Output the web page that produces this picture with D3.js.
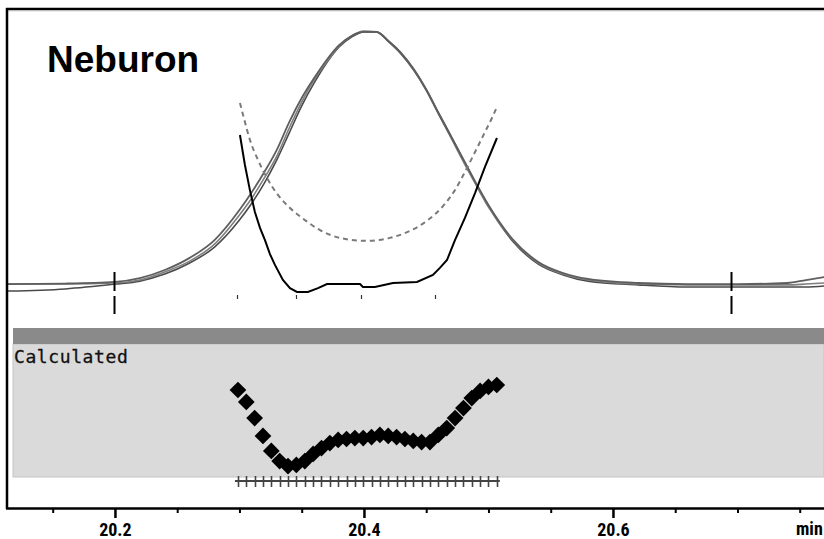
<!DOCTYPE html>
<html><head><meta charset="utf-8">
<script src="https://cdn.jsdelivr.net/npm/d3@7"></script>
<style>body{margin:0;background:#fff}svg{display:block}</style>
</head><body><svg id="c" width="824" height="539"></svg>
<script>
// ---------- data ----------
const title = "Neburon";
const panelLabel = "Calculated";
const unitLabel = "min";
const xTickMajor = [20.2, 20.4, 20.6];
const xTickMinor = [20.15, 20.25, 20.3, 20.35, 20.45, 20.5, 20.55, 20.65, 20.7, 20.75];

const traceTimes = [20.11, 20.16, 20.20, 20.22, 20.24, 20.26, 20.28, 20.30, 20.31, 20.32, 20.33, 20.34, 20.35, 20.36, 20.37, 20.38, 20.39, 20.40, 20.41, 20.42, 20.43, 20.44, 20.45, 20.46, 20.47, 20.48, 20.49, 20.50, 20.52, 20.54, 20.56, 20.58, 20.62, 20.66, 20.70, 20.74, 20.755, 20.77];
const traceA = [5.9, 6.1, 6.7, 8.1, 11.1, 15.6, 22.2, 33.3, 40.0, 47.4, 55.6, 65.9, 74.8, 82.2, 88.9, 94.4, 97.8, 99.3, 99.3, 95.6, 91.1, 85.2, 77.8, 68.9, 60.4, 51.9, 43.3, 35.2, 22.2, 14.1, 10.0, 7.8, 6.3, 5.9, 5.9, 6.3, 7.4, 8.5];
const traceB = [3.3, 4.1, 5.9, 7.0, 9.6, 13.7, 19.6, 29.6, 35.9, 43.3, 51.9, 61.9, 71.9, 80.4, 87.8, 93.7, 97.4, 99.3, 99.3, 95.9, 91.5, 85.6, 78.1, 69.3, 60.7, 51.9, 43.0, 34.8, 21.5, 13.3, 9.3, 7.0, 5.6, 4.8, 4.8, 4.8, 4.8, 5.2];
const traceC = [5.9, 5.9, 6.3, 7.4, 10.4, 14.4, 20.7, 31.5, 37.8, 45.2, 53.3, 63.7, 73.3, 81.5, 88.1, 94.1, 97.8, 99.6, 99.3, 95.6, 91.1, 85.2, 77.8, 68.9, 60.0, 51.1, 42.6, 34.4, 21.9, 13.7, 9.6, 7.4, 5.9, 5.6, 5.6, 5.6, 5.9, 6.3];

const ratioTimes = [20.3004, 20.3044, 20.3084, 20.3124, 20.3165, 20.3205, 20.3245, 20.3285, 20.3349, 20.3406, 20.3462, 20.3550, 20.3631, 20.3703, 20.3847, 20.3968, 20.3992, 20.4088, 20.4233, 20.4426, 20.4554, 20.4610, 20.4667, 20.4731, 20.4811, 20.4892, 20.4972, 20.5068];
const ratioValues = [61.1, 50.0, 40.7, 32.6, 26.7, 22.2, 17.0, 13.0, 7.4, 4.4, 3.0, 3.0, 4.4, 5.9, 5.9, 5.9, 4.8, 4.8, 6.3, 6.7, 9.3, 11.9, 14.8, 22.2, 30.4, 39.6, 49.3, 60.0];

const limitTimes = [20.3004, 20.3044, 20.3084, 20.3149, 20.3221, 20.3309, 20.3406, 20.3526, 20.3647, 20.3807, 20.4008, 20.4209, 20.4369, 20.4514, 20.4635, 20.4731, 20.4811, 20.4892, 20.4972, 20.5028, 20.5068];
const limitValues = [73.0, 65.9, 59.3, 51.9, 45.2, 38.9, 34.1, 29.6, 25.9, 23.0, 21.9, 23.0, 25.6, 29.6, 34.8, 40.7, 47.4, 54.8, 62.2, 67.4, 71.5];

const integrationTimes = [20.199, 20.695];
const markTimes = [20.298, 20.3454, 20.3976, 20.457];

const scanTimes = [20.2988, 20.3055, 20.3122, 20.3189, 20.3256, 20.3323, 20.3390, 20.3457, 20.3525, 20.3592, 20.3659, 20.3726, 20.3793, 20.3860, 20.3927, 20.3994, 20.4061, 20.4128, 20.4195, 20.4262, 20.4329, 20.4396, 20.4463, 20.4530, 20.4597, 20.4665, 20.4732, 20.4799, 20.4866, 20.4933, 20.5000, 20.5067];
const calcValues = [89.8, 77.6, 61.2, 42.9, 27.6, 17.3, 12.2, 13.3, 17.3, 24.5, 30.6, 35.7, 38.8, 39.8, 40.8, 40.8, 41.8, 43.9, 42.9, 41.8, 39.8, 37.8, 36.7, 36.7, 43.9, 51.0, 61.2, 71.4, 81.6, 88.8, 92.9, 94.9];

// ---------- layout ----------
const W = 824, H = 539;
const L = 7, T = 9, B = 508;
const svg = d3.select("#c");
const x = d3.scaleLinear().domain([20.1133, 20.7695]).range([L, W]);
const yUp = d3.scaleLinear().domain([0, 100]).range([300, 30]);
const yLo = d3.scaleLinear().domain([0, 100]).range([478, 380]);
const axisFont = "Liberation Sans Narrow, Arial Narrow, Roboto Condensed, Liberation Sans, sans-serif";

svg.append("defs").append("clipPath").attr("id", "clip")
  .append("rect").attr("x", L + 1).attr("y", T).attr("width", W - L).attr("height", B - T);

// lower panel
svg.append("rect").attr("x", 13).attr("y", 344).attr("width", W - 13).attr("height", 133)
  .attr("fill", "#dadada").attr("stroke", "#c4c4c4").attr("stroke-width", 1);
svg.append("rect").attr("x", 13).attr("y", 328).attr("width", W - 13).attr("height", 16)
  .attr("fill", "#8a8a8a");
svg.append("text").attr("x", 14).attr("y", 363).text(panelLabel)
  .attr("font-family", "DejaVu Sans Mono, monospace").attr("font-size", 18)
  .attr("letter-spacing", 0.6).attr("fill", "#111").attr("stroke", "#111").attr("stroke-width", 0.3);

// title
svg.append("text").attr("x", 47).attr("y", 72).text(title)
  .attr("font-family", "Liberation Sans, Arial, sans-serif").attr("font-weight", "bold")
  .attr("font-size", 37).attr("fill", "#000");

const g = svg.append("g").attr("clip-path", "url(#clip)");

// traces
const line = (ts) => d3.line().x((d, i) => x(ts[i])).y(d => yUp(d)).curve(d3.curveMonotoneX);
[[traceB, "#4a4a4a", 1.6], [traceC, "#7e7e7e", 1.6], [traceA, "#5e5e5e", 1.8]].forEach(([v, c, w]) => {
  g.append("path").attr("d", line(traceTimes)(v)).attr("fill", "none")
    .attr("stroke", c).attr("stroke-width", w);
});

// qualifier limits (dashed) and ratio (solid)
g.append("path").attr("d", d3.line().x((d, i) => x(limitTimes[i])).y(d => yUp(d)).curve(d3.curveMonotoneX)(limitValues))
  .attr("fill", "none").attr("stroke", "#7a7a7a").attr("stroke-width", 2).attr("stroke-dasharray", "5,4");
g.append("path").attr("d", d3.line().x((d, i) => x(ratioTimes[i])).y(d => yUp(d))(ratioValues))
  .attr("fill", "none").attr("stroke", "#000").attr("stroke-width", 2);

// integration markers
integrationTimes.forEach(t => {
  const px = Math.round(x(t)) + 0.5;
  g.append("line").attr("x1", px).attr("x2", px).attr("y1", 272).attr("y2", 291).attr("stroke", "#000").attr("stroke-width", 2);
  g.append("line").attr("x1", px).attr("x2", px).attr("y1", 296).attr("y2", 314).attr("stroke", "#000").attr("stroke-width", 2);
});
markTimes.forEach(t => {
  const px = Math.round(x(t)) + 0.5;
  g.append("line").attr("x1", px).attr("x2", px).attr("y1", 295).attr("y2", 299).attr("stroke", "#333").attr("stroke-width", 1.2);
});

// scan ticks
const s0 = x(scanTimes[0]) - 3, s1 = x(scanTimes[scanTimes.length - 1]) + 3;
svg.append("line").attr("x1", s0).attr("x2", s1).attr("y1", 481).attr("y2", 481).attr("stroke", "#444").attr("stroke-width", 2);
scanTimes.forEach(t => {
  const px = Math.round(x(t)) + 0.5;
  svg.append("line").attr("x1", px).attr("x2", px).attr("y1", 476).attr("y2", 487).attr("stroke", "#444").attr("stroke-width", 1.6);
});

// calculated diamonds
const sym = d3.symbol().type(d3.symbolSquare).size(140);
svg.append("g").selectAll("path").data(calcValues).join("path")
  .attr("d", sym)
  .attr("transform", (d, i) => `translate(${x(scanTimes[i])},${yLo(d)}) rotate(45)`)
  .attr("fill", "#000");

// frame
svg.append("line").attr("x1", 6).attr("x2", W).attr("y1", 9).attr("y2", 9).attr("stroke", "#000").attr("stroke-width", 2.5);
svg.append("line").attr("x1", 6).attr("x2", W).attr("y1", 10.8).attr("y2", 10.8).attr("stroke", "#bbb").attr("stroke-width", 1);
svg.append("line").attr("x1", L).attr("x2", L).attr("y1", 8).attr("y2", B + 1).attr("stroke", "#000").attr("stroke-width", 2.5);

// axis
const axMinor = d3.axisBottom(x).tickValues(xTickMinor).tickSize(5).tickFormat("");
const axMajor = d3.axisBottom(x).tickValues(xTickMajor).tickSize(10).tickPadding(5).tickFormat(d3.format(".1f"));
const gm = svg.append("g").attr("transform", `translate(0,${B})`).call(axMinor);
gm.select(".domain").attr("stroke-width", 2.5).attr("d", `M${L - 1},0.5H${W}`);
gm.selectAll(".tick line").attr("stroke-width", 2);
const gM = svg.append("g").attr("transform", `translate(0,${B})`).call(axMajor);
gM.select(".domain").remove();
gM.attr("font-size", 18);
gM.selectAll(".tick line").attr("stroke-width", 2.5);
gM.selectAll(".tick text").attr("font-family", axisFont)
  .attr("font-weight", "bold").style("font-size", "18px").attr("fill", "#000");
svg.append("text").attr("x", 796).attr("y", 535).text(unitLabel)
  .attr("font-family", axisFont)
  .attr("font-weight", "bold").style("font-size", "18px").attr("fill", "#000");
</script></body></html>
